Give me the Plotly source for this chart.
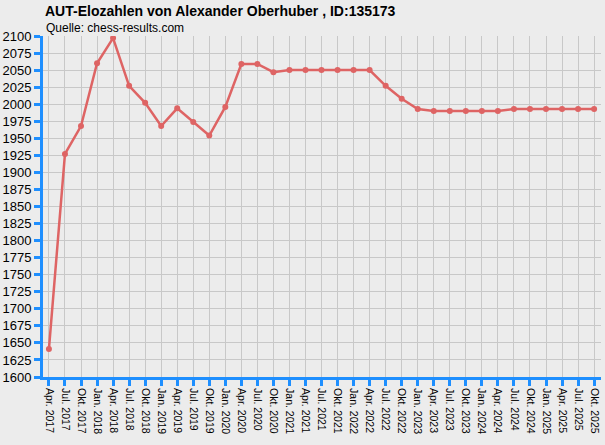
import plotly.graph_objects as go

# quarter labels along the x axis
quarters = ['Apr. 2017', 'Jul. 2017', 'Okt. 2017',
            'Jan. 2018', 'Apr. 2018', 'Jul. 2018', 'Okt. 2018',
            'Jan. 2019', 'Apr. 2019', 'Jul. 2019', 'Okt. 2019',
            'Jan. 2020', 'Apr. 2020', 'Jul. 2020', 'Okt. 2020',
            'Jan. 2021', 'Apr. 2021', 'Jul. 2021', 'Okt. 2021',
            'Jan. 2022', 'Apr. 2022', 'Jul. 2022', 'Okt. 2022',
            'Jan. 2023', 'Apr. 2023', 'Jul. 2023', 'Okt. 2023',
            'Jan. 2024', 'Apr. 2024', 'Jul. 2024', 'Okt. 2024',
            'Jan. 2025', 'Apr. 2025', 'Jul. 2025', 'Okt. 2025']

# elo rating per quarter
elo = [1641, 1927, 1968,
       2060, 2097, 2027, 2002,
       1968, 1994, 1974, 1954,
       1996, 2059, 2059, 2047,
       2050, 2050, 2050, 2050,
       2050, 2050, 2027, 2008,
       1993, 1990, 1990, 1990,
       1990, 1990, 1993, 1993,
       1993, 1993, 1993, 1993]

y_ticks = list(range(1600, 2101, 25))

bg = '#ececec'
blue = '#1e8fff'
red = '#de6464'

idx = list(range(len(quarters)))

fig = go.Figure()
fig.add_trace(go.Scatter(x=idx, y=elo, mode='lines+markers',
                         line=dict(color=red, width=2.5),
                         marker=dict(color=red, size=6, symbol='circle'),
                         showlegend=False))

# title + source line
fig.add_annotation(text='<b>AUT-Elozahlen von Alexander Oberhuber , ID:135173</b>',
                   xref='paper', yref='paper', x=0, y=1, xshift=0, yshift=35,
                   xanchor='left', yanchor='top', showarrow=False,
                   font=dict(family='Liberation Sans', size=14, color='#000'))
fig.add_annotation(text='Quelle: chess-results.com',
                   xref='paper', yref='paper', x=0, y=1, xshift=1, yshift=17,
                   xanchor='left', yanchor='top', showarrow=False,
                   font=dict(family='Liberation Sans', size=12, color='#000'))

fig.update_layout(width=605, height=445,
                  margin={'l': 43, 'r': 4, 't': 36, 'b': 68},
                  paper_bgcolor=bg, plot_bgcolor=bg,
                  font=dict(family='Liberation Sans', size=12, color='#000'))

fig.update_xaxes(range=[-0.37, 34.43], tickvals=idx, ticktext=quarters,
                 automargin=False,
                 showgrid=True, gridcolor='#c8c8c8', gridwidth=1,
                 showline=True, linecolor=blue, linewidth=3,
                 ticks='outside', ticklen=6, tickwidth=3, tickcolor=blue,
                 tickangle=90, tickfont=dict(size=10.5), zeroline=False)

fig.update_yaxes(range=[1600, 2100], tickvals=y_ticks, automargin=False,
                 showgrid=True, gridcolor='#c8c8c8', gridwidth=1,
                 showline=True, linecolor=blue, linewidth=3,
                 ticks='outside', ticklen=6, tickwidth=3, tickcolor=blue,
                 tickfont=dict(size=13), zeroline=False)

# page has a default 8px body margin; drop it so the figure fills the window
fig.write_html('out.html', config={'displayModeBar': False},
               post_script="document.body.style.margin='0';document.body.style.background='#ececec';")
